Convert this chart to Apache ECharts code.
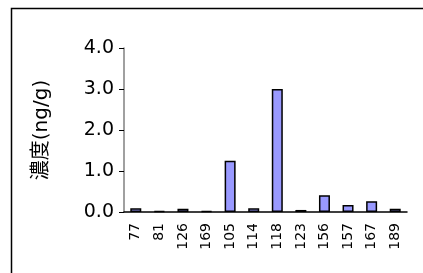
<!DOCTYPE html>
<html>
<head>
<meta charset="utf-8">
<script src="https://cdn.jsdelivr.net/npm/echarts@6/dist/echarts.min.js"></script>
<style>
  html, body { margin: 0; padding: 0; background: #fff; }
  #chart { width: 423px; height: 273px; }
</style>
</head>
<body>
<div id="chart"></div>
<script>
// congener numbers on the x axis
const congeners = ["77", "81", "126", "169", "105", "114", "118", "123", "156", "157", "167", "189"];
// concentration (ng/g)
const concentration = [0.09, 0.02, 0.08, 0.02, 1.25, 0.09, 3.0, 0.05, 0.41, 0.17, 0.26, 0.08];
const yTicks = [0, 1, 2, 3, 4];

const chart = echarts.init(document.getElementById("chart"), null, { renderer: "canvas" });

// wide sans face, closest to the spaced-out lettering of the original
const FONT = "'DejaVu Sans', sans-serif";

chart.setOption({
  animation: false,
  backgroundColor: "#fff",
  graphic: [
    {
      // outer frame, cut off on the right and bottom
      type: "rect",
      shape: { x: 11.5, y: 8.5, width: 500, height: 400 },
      style: { fill: "none", stroke: "#000", lineWidth: 1.5 },
      silent: true,
    },
  ],
  grid: { left: 124, right: 16, top: 48, bottom: 61 },
  xAxis: {
    type: "category",
    data: congeners,
    boundaryGap: true,
    axisLine: { lineStyle: { color: "#000", width: 1.5 } },
    axisTick: { inside: true, length: 3, lineStyle: { color: "#000" } },
    axisLabel: {
      rotate: 90,
      interval: 0,
      margin: 11,
      color: "#000",
      fontFamily: FONT,
      fontSize: 14,
    },
  },
  yAxis: {
    type: "value",
    min: yTicks[0],
    max: yTicks[yTicks.length - 1],
    interval: 1,
    name: "濃度(ng/g)",
    nameLocation: "middle",
    nameGap: 72,
    nameTextStyle: {
      color: "#000",
      fontSize: 20,
      fontFamily: "'DejaVu Sans', 'Noto Sans CJK JP', sans-serif",
    },
    axisLine: { show: true, lineStyle: { color: "#808080", width: 1.5 } },
    axisTick: { show: true, length: 5, lineStyle: { color: "#000" } },
    splitLine: { show: false },
    axisLabel: {
      margin: 10,
      color: "#000",
      fontFamily: FONT,
      fontSize: 19,
      formatter: (v) => v.toFixed(1),
    },
  },
  series: [
    {
      type: "bar",
      data: concentration,
      barWidth: 11,
      itemStyle: { color: "#9999ff", borderColor: "#000", borderWidth: 1.5 },
    },
  ],
});
</script>
</body>
</html>
